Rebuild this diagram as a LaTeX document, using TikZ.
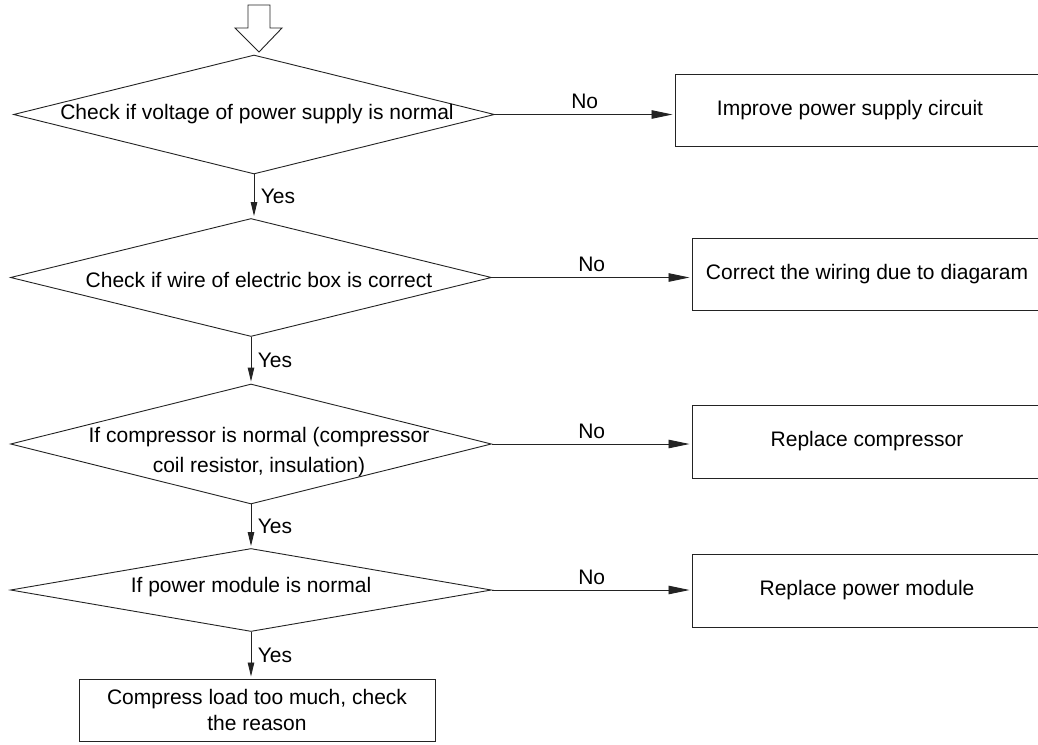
\documentclass[tikz,border=0pt]{standalone}
\usepackage{fontspec}
\setmainfont{Liberation Sans}
\usetikzlibrary{arrows.meta, positioning, shapes.geometric}
\definecolor{cline}{RGB}{35,35,35}

\begin{document}
\begin{tikzpicture}[
    x=1pt, y=-1pt,
    every node/.style={font=\fontsize{21}{26}\selectfont},
    decision/.style={draw=cline, line width=0.9pt, shape=diamond, minimum width=481pt, inner sep=0pt},
    action/.style={draw=cline, line width=1pt, rectangle, minimum width=350pt, minimum height=72pt, inner sep=0pt},
    yesflow/.style={draw=cline, line width=0.9pt, shorten >=2pt, -{Triangle[length=14pt, width=6.5pt]}},
    noflow/.style={draw=cline, line width=0.9pt, shorten >=2pt, -{Triangle[length=21pt, width=8.5pt]}},
]
    \useasboundingbox (0,0) rectangle (1038,744);
    \fill[white] (0,0) rectangle (1038,744);
    \clip (0,0) rectangle (1038,744);

    % Entry arrow
    \draw[cline, line width=0.9pt, fill=white]
        (248,5) -- (270,5) -- (270,28) -- (282,28) -- (259,52) -- (235,28) -- (248,28) -- cycle;

    % Decisions
    \node[decision, minimum height=119pt] (d1) at (254,114.5) {};
    \node (d1t) at (257,114) {Check if voltage of power supply is normal};
    \node[decision, minimum height=118pt] (d2) at (251,277.5) {};
    \node (d2t) at (259,280) {Check if wire of electric box is correct};
    \node[decision, minimum height=120pt] (d3) at (251,444) {};
    \node[align=center] (d3t) at (259,452) {If compressor is normal (compressor\\[4pt]coil resistor, insulation)};
    \node[decision, minimum height=83pt] (d4) at (251,590) {};
    \node (d4t) at (251,587) {If power module is normal};

    % Actions
    \node[action, minimum width=367pt] (b1) at (858.5,110) {Improve power supply circuit\hspace*{17pt}};
    \node[action] (b2) at (867,274) {Correct the wiring due to diagaram};
    \node[action, minimum height=73pt] (b3) at (867,441.5) {Replace compressor};
    \node[action, minimum height=73pt] (b4) at (867,590.5) {Replace power module};
    \node[action, minimum width=356pt, minimum height=62pt, align=center] (b5) at (257,710)
        {Compress load too much, check\\the reason};

    % Yes branches
    \draw[yesflow] (d1.south) -- (d1.south |- d2.north) node[midway, right=3pt] {Yes};
    \draw[yesflow] (d2.south) -- (d3.north) node[midway, right=3pt] {Yes};
    \draw[yesflow] (d3.south) -- (d4.north) node[midway, right=3pt] {Yes};
    \draw[yesflow] (d4.south) -- (d4.south |- b5.north) node[midway, right=3pt] {Yes};

    % No branches
    \draw[noflow] (d1.east) -- (d1.east -| b1.west) node[midway, above=2pt] {No};
    \draw[noflow] (d2.east) -- (d2.east -| b2.west) node[midway, above=2pt] {No};
    \draw[noflow] (d3.east) -- (d3.east -| b3.west) node[midway, above=2pt] {No};
    \draw[noflow] (d4.east) -- (d4.east -| b4.west) node[midway, above=2pt] {No};
\end{tikzpicture}
\end{document}
